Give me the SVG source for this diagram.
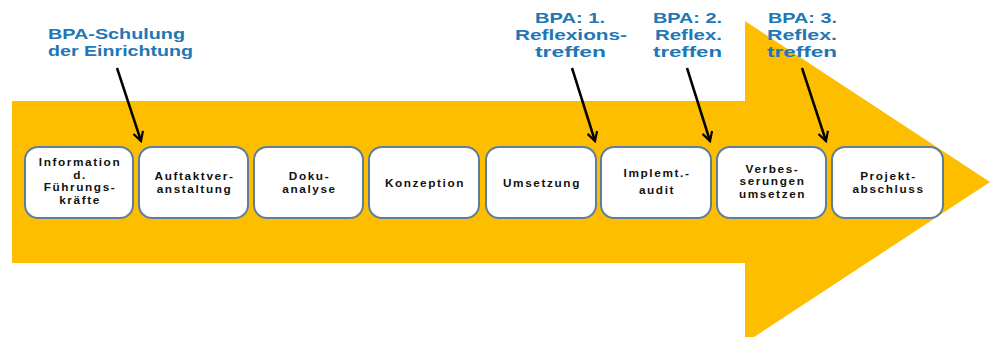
<svg xmlns="http://www.w3.org/2000/svg" width="994" height="337" viewBox="0 0 994 337">
  <defs>
    <marker id="head" viewBox="0 0 12 12" refX="10" refY="6" markerWidth="12" markerHeight="12" markerUnits="userSpaceOnUse" orient="auto">
      <path d="M1,1 L10,6 L1,11" fill="none" stroke="#000" stroke-width="2.2" stroke-linejoin="miter"/>
    </marker>
  </defs>
  <style>
    .step rect { fill: #ffffff; stroke: #5f7e9c; stroke-width: 2; }
    .step text { font-family: "Liberation Sans", Arial, sans-serif; font-weight: bold; font-size: 11.8px; letter-spacing: 1.6px; fill: #111; text-anchor: middle; }
    .note text { font-family: "Liberation Sans", Arial, sans-serif; font-weight: bold; font-size: 15px; fill: #2176b6; text-anchor: middle; }
    .link { stroke: #000; stroke-width: 2.5; fill: none; marker-end: url(#head); }
  </style>

  <rect width="994" height="337" fill="#ffffff"/>

  <!-- big process arrow -->
  <path id="process-arrow" d="M12,101 L745,101 L745,21 L990,182 L745,343 L745,263 L12,263 Z" fill="#fdbe00"/>

  <!-- callout labels (set wide to fit their columns) -->
  <g id="note-schulung" class="note">
    <text x="116.5" y="39" textLength="137" lengthAdjust="spacingAndGlyphs">BPA-Schulung</text>
    <text x="120.5" y="56" textLength="145" lengthAdjust="spacingAndGlyphs">der Einrichtung</text>
  </g>
  <g id="note-reflex1" class="note">
    <text x="570" y="23" textLength="70" lengthAdjust="spacingAndGlyphs">BPA: 1.</text>
    <text x="571" y="40" textLength="112" lengthAdjust="spacingAndGlyphs">Reflexions-</text>
    <text x="570.5" y="57" textLength="71" lengthAdjust="spacingAndGlyphs">treffen</text>
  </g>
  <g id="note-reflex2" class="note">
    <text x="687.5" y="23" textLength="69" lengthAdjust="spacingAndGlyphs">BPA: 2.</text>
    <text x="688.5" y="40" textLength="67" lengthAdjust="spacingAndGlyphs">Reflex.</text>
    <text x="687.5" y="57" textLength="69" lengthAdjust="spacingAndGlyphs">treffen</text>
  </g>
  <g id="note-reflex3" class="note">
    <text x="802.5" y="23" textLength="69" lengthAdjust="spacingAndGlyphs">BPA: 3.</text>
    <text x="802" y="40" textLength="70" lengthAdjust="spacingAndGlyphs">Reflex.</text>
    <text x="802" y="57" textLength="70" lengthAdjust="spacingAndGlyphs">treffen</text>
  </g>

  <!-- process steps -->
  <g id="step-information" class="step">
    <rect x="25" y="147" width="108" height="71" rx="13"/>
    <text x="80" y="166">Information</text>
    <text x="80" y="178.5">d.</text>
    <text x="80" y="191">Führungs-</text>
    <text x="80" y="203.5">kräfte</text>
  </g>
  <g id="step-auftakt" class="step">
    <rect x="139" y="147" width="109" height="71" rx="13"/>
    <text x="194.5" y="179.5">Auftaktver-</text>
    <text x="194.5" y="192.5">anstaltung</text>
  </g>
  <g id="step-doku" class="step">
    <rect x="254" y="147" width="109" height="71" rx="13"/>
    <text x="309.5" y="179.5">Doku-</text>
    <text x="309.5" y="192.5">analyse</text>
  </g>
  <g id="step-konzeption" class="step">
    <rect x="369" y="147" width="110" height="71" rx="13"/>
    <text x="425" y="187">Konzeption</text>
  </g>
  <g id="step-umsetzung" class="step">
    <rect x="486" y="147" width="110" height="71" rx="13"/>
    <text x="542" y="187">Umsetzung</text>
  </g>
  <g id="step-audit" class="step">
    <rect x="601" y="147" width="110" height="71" rx="13"/>
    <text x="657" y="177">Implemt.-</text>
    <text x="657" y="194">audit</text>
  </g>
  <g id="step-verbesserungen" class="step">
    <rect x="717" y="147" width="109" height="71" rx="13"/>
    <text x="772.5" y="172.5">Verbes-</text>
    <text x="772.5" y="185">serungen</text>
    <text x="772.5" y="197.5">umsetzen</text>
  </g>
  <g id="step-abschluss" class="step">
    <rect x="832" y="147" width="111" height="71" rx="13"/>
    <text x="888.5" y="179.5">Projekt-</text>
    <text x="888.5" y="192.5">abschluss</text>
  </g>

  <!-- connectors from callouts to the process -->
  <g id="connectors">
    <line class="link" x1="117" y1="68" x2="141" y2="141"/>
    <line class="link" x1="572" y1="68" x2="595" y2="141"/>
    <line class="link" x1="687" y1="68" x2="710" y2="141"/>
    <line class="link" x1="802" y1="68" x2="826" y2="141"/>
  </g>
</svg>
